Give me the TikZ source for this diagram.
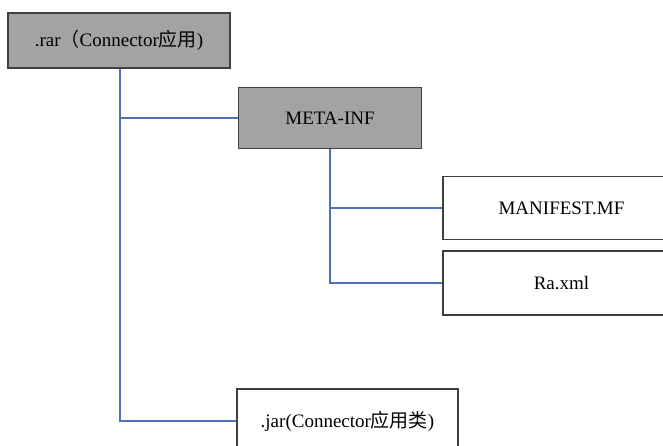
\documentclass[tikz,border=0pt]{standalone}
\usepackage{fontspec}
\setmainfont{Liberation Serif}
\newfontfamily\cjk{Noto Sans CJK SC}
\usetikzlibrary{calc}
\definecolor{linkblue}{RGB}{78,114,186}

\begin{document}
\begin{tikzpicture}[x=1pt, y=-1pt,
				dirbox/.style={draw=black!75, line width=1.6pt, fill=black!36, minimum height=61pt, align=center, font=\fontsize{19}{22}\selectfont, inner sep=0pt},
				filebox/.style={draw=black!75, line width=1.6pt, fill=white, minimum height=63pt, align=center, font=\fontsize{19}{22}\selectfont, inner sep=0pt},
				link/.style={draw=linkblue, line width=1.6pt}]
				\useasboundingbox (0,0) rectangle (663,446);
				\node[dirbox, minimum width=222pt, minimum height=55pt] (rar) at (119,40.5) {.rar{\cjk （}Connector{\cjk 应用})};
				\node[dirbox, minimum width=183pt] (meta) at (330,118) {META-INF};
				\node[filebox, minimum width=237pt] (manifest) at (561.5,208) {MANIFEST.MF};
				\node[filebox, minimum width=237pt, minimum height=64pt] (ra) at (561.5,283) {Ra.xml};
				\node[filebox, minimum width=221pt, minimum height=64pt] (jar) at (347.5,421) {.jar(Connector{\cjk 应用类})};
				
				\coordinate (trunk) at (120,0);
				
				\draw[link] (rar.south -| trunk) |- (jar.west);
				\draw[link] (trunk |- meta.west) -- (meta.west);
				\draw[link] (meta.south) |- (ra.west);
				\draw[link] (meta.south |- manifest.west) -- (manifest.west);
			\end{tikzpicture}
\end{document}
